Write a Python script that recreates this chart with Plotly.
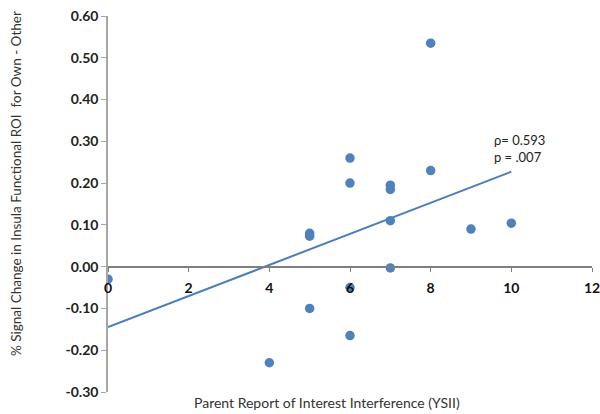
import numpy as np
import plotly.graph_objects as go

# Data
ysii = [0, 4, 5, 5, 5, 6, 6, 6, 6, 7, 7, 7, 7, 8, 8, 9, 10]
signal = [-0.03, -0.23, -0.10, 0.08, 0.073, 0.26, 0.20, -0.165, -0.05,
          0.195, 0.185, 0.11, -0.003, 0.23, 0.535, 0.09, 0.104]
x_ticks = [0, 2, 4, 6, 8, 10, 12]
y_ticks = [-0.30, -0.20, -0.10, 0.00, 0.10, 0.20, 0.30, 0.40, 0.50, 0.60]
stats_text = "ρ= 0.593<br>p = .007"

slope, intercept = np.polyfit(ysii, signal, 1)
fit_x = [min(ysii), max(ysii)]
fit_y = [intercept + slope * v for v in fit_x]

blue = "#4f81bd"
font = "Lato, Open Sans, sans-serif"

L, T, PW, PH = 108, 16, 484, 376
W, H = 600, 414


def px(xp):
    return (xp - L) / PW


def py(yp):
    return (T + PH - yp) / PH


fig = go.Figure()
fig.add_trace(go.Scatter(x=fit_x, y=fit_y, mode="lines",
                         line=dict(color="#4a7ebb", width=2), hoverinfo="skip"))
fig.add_trace(go.Scatter(x=ysii, y=signal, mode="markers",
                         marker=dict(color=blue, size=9.5)))

fig.update_layout(
    width=W, height=H,
    margin=dict(l=L, r=W - L - PW, t=T, b=H - T - PH, autoexpand=False),
    plot_bgcolor="white", paper_bgcolor="white",
    showlegend=False,
    font=dict(family=font, size=12, color="#222"),
    xaxis=dict(range=[0, 12], tickvals=x_ticks, ticktext=[str(v) for v in x_ticks],
               showgrid=False, zeroline=False, showline=True,
               linecolor="#7f7f7f", linewidth=2, automargin=False,
               ticks="outside", ticklen=4, tickcolor="#7f7f7f",
               anchor="free", position=1/3, ticklabelstandoff=5,
               ticklabeloverflow="allow",
               tickfont=dict(family=font, size=14, color="#111", weight="bold")),
    yaxis=dict(range=[-0.30, 0.60], tickvals=y_ticks,
               ticktext=[f"{v:.2f}" for v in y_ticks], automargin=False,
               showgrid=False, zeroline=False, showline=True,
               linecolor="#a6a6a6", linewidth=1.5,
               ticks="outside", ticklen=5, tickcolor="#a6a6a6",
               ticklabeloverflow="allow",
               tickfont=dict(family=font, size=14, color="#222", weight="bold")),
    annotations=[
        dict(text=stats_text, x=px(492), y=py(148),
             xref="paper", yref="paper", xanchor="left", yanchor="middle",
             showarrow=False, align="left",
             font=dict(family=font, size=13, color="#222")),
        dict(text="Parent Report of Interest Interference (YSII)",
             x=px(327), y=py(402), xref="paper", yref="paper",
             xanchor="center", yanchor="middle", showarrow=False,
             font=dict(family=font, size=14, color="#333")),
        dict(text="% Signal Change in Insula Functional ROI  for Own - Other",
             x=px(16), y=py(184), xref="paper", yref="paper",
             xanchor="center", yanchor="middle", textangle=-90, showarrow=False,
             font=dict(family=font, size=13.5, color="#333")),
    ],
)

fig.write_html(
    "out.html",
    config={"displayModeBar": False},
    post_script="document.body.style.margin='0';document.body.style.overflow='hidden';",
)
